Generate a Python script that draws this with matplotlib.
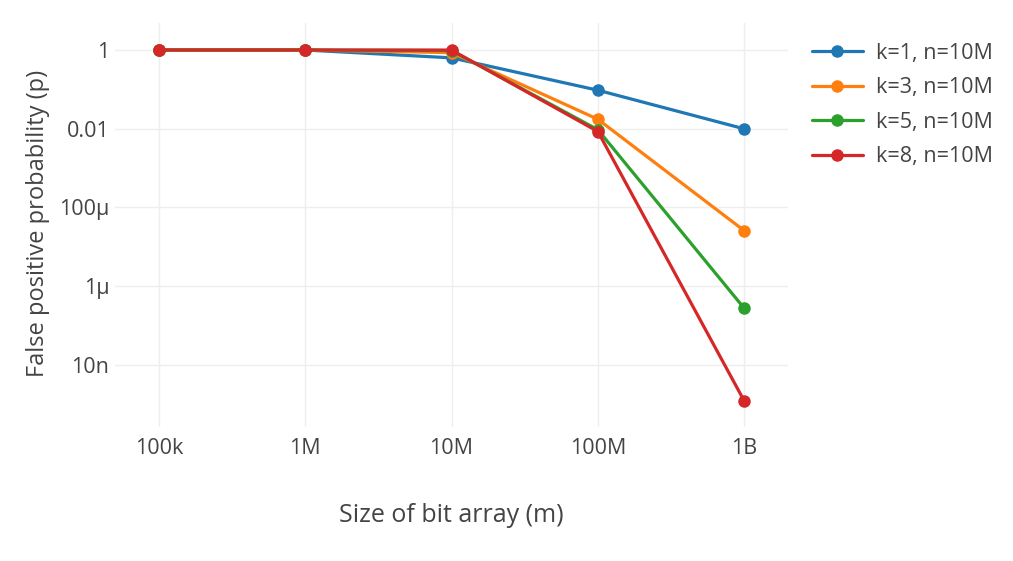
import matplotlib.pyplot as plt

# Bit array sizes (m) and false positive probability (p) per series
m_sizes = [1e5, 1e6, 1e7, 1e8, 1e9]
x_tick_labels = ["100k", "1M", "10M", "100M", "1B"]

p_k1 = [1.0, 0.99995, 0.632, 0.0952, 0.00995]
p_k3 = [1.0, 1.0, 0.857, 0.0174, 2.58e-5]
p_k5 = [1.0, 1.0, 0.966, 0.00943, 2.75e-7]
p_k8 = [1.0, 1.0, 0.997, 0.00851, 1.22e-9]

series_names = ["k=1, n=10M", "k=3, n=10M", "k=5, n=10M", "k=8, n=10M"]
series_values = [p_k1, p_k3, p_k5, p_k8]
colors = ["#1f77b4", "#ff7f0e", "#2ca02c", "#d62728"]

y_ticks = [1, 1e-2, 1e-4, 1e-6, 1e-8]
y_tick_labels = ["1", "0.01", "100µ", "1µ", "10n"]

plt.rcParams['font.family'] = ['Open Sans', 'DejaVu Sans']
TEXT = "#444444"

fig = plt.figure(figsize=(10.13, 5.61), dpi=100)
ax = fig.add_axes([0.1135, 0.2389, 0.6645, 0.7201])

for name, vals, c in zip(series_names, series_values, colors):
    ax.plot(m_sizes, vals, color=c, lw=2.3, marker="o", ms=8, label=name,
            solid_capstyle="round")

ax.set_xscale("log")
ax.set_yscale("log")
ax.set_xlim(10 ** 4.70, 10 ** 9.30)
ax.set_ylim(10 ** -9.575, 10 ** 0.686)

ax.set_xticks(m_sizes)
ax.set_xticklabels(x_tick_labels)
ax.set_yticks(y_ticks)
ax.set_yticklabels(y_tick_labels)
ax.minorticks_off()
ax.tick_params(length=0, labelsize=15.5, labelcolor=TEXT)
ax.tick_params(axis="x", pad=8)
ax.tick_params(axis="y", pad=4)

ax.grid(True, color="#eeeeee", lw=1)
ax.set_axisbelow(True)
for s in ax.spines.values():
    s.set_visible(False)

ax.set_xlabel("Size of bit array (m)", fontsize=18, color=TEXT, va="center")
ax.xaxis.set_label_coords(0.5, -0.218)
ax.set_ylabel("False positive probability (p)", fontsize=17, color=TEXT, va="center")
ax.yaxis.set_label_coords(-0.114, 0.505)

leg = ax.legend(loc="upper left", bbox_to_anchor=(1.022, 0.973), frameon=False,
                fontsize=15.5, handlelength=2.4, handletextpad=0.6,
                labelspacing=0.63, borderaxespad=0)
for t in leg.get_texts():
    t.set_color(TEXT)

fig.savefig("out.png", dpi=100)
